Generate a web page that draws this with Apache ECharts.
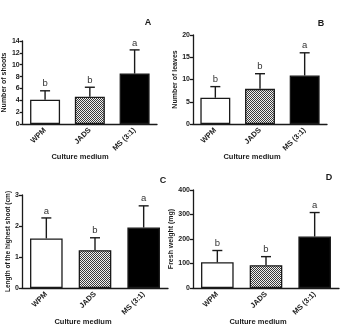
<!DOCTYPE html>
<html>
<head>
<meta charset="utf-8">
<script src="https://cdn.jsdelivr.net/npm/echarts@6/dist/echarts.min.js"></script>
<style>html,body{margin:0;background:#fff}#chart{width:341px;height:330px}</style>
</head>
<body>
<div id="chart"></div>
<script>
const categories = ['WPM', 'JADS', 'MS (3:1)']

const shootsMean = [4.1, 4.6, 8.5]
const shootsSd = [1.5, 1.6, 4.0]
const shootsLetters = ['b', 'b', 'a']
const shootsAxis = [0, 14, 2] // min, max, interval

const leavesMean = [5.9, 7.9, 10.9]
const leavesSd = [2.5, 3.4, 5.1]
const leavesLetters = ['b', 'b', 'a']
const leavesAxis = [0, 20, 5]

const lengthMean = [1.6, 1.22, 1.95]
const lengthSd = [0.66, 0.4, 0.7]
const lengthLetters = ['a', 'b', 'a']
const lengthAxis = [0, 3, 1]

const weightMean = [105, 93, 210]
const weightSd = [48, 35, 98]
const weightLetters = ['b', 'b', 'a']
const weightAxis = [0, 400, 100]

const ink = '#1a1a1a'
const font = 'Liberation Sans, Arial, sans-serif'

// fine checker fill for the JADS bars
const tile = document.createElement('canvas')
tile.width = tile.height = 2
const tctx = tile.getContext('2d')
tctx.fillStyle = '#f0f0f0'; tctx.fillRect(0, 0, 2, 2)
tctx.fillStyle = '#3a3a3a'; tctx.fillRect(0, 0, 1, 1); tctx.fillRect(1, 1, 1, 1)
const fills = ['#fff', { image: tile, repeat: 'repeat' }, '#000']

const panels = [
  { tag: 'A', yName: 'Number of shoots', mean: shootsMean, sd: shootsSd, letters: shootsLetters, axis: shootsAxis,
    grid: { left: 21, top: 41, width: 136, height: 83 }, tagPos: [148, 23], titlePos: [80, 157], nameGap: 12 },
  { tag: 'B', yName: 'Number of leaves', mean: leavesMean, sd: leavesSd, letters: leavesLetters, axis: leavesAxis,
    grid: { left: 193, top: 35, width: 134, height: 89 }, tagPos: [321, 24], titlePos: [252, 157], nameGap: 12 },
  { tag: 'C', yName: 'Length of the highest shoot (cm)', mean: lengthMean, sd: lengthSd, letters: lengthLetters, axis: lengthAxis,
    grid: { left: 22, top: 195, width: 146, height: 93 }, tagPos: [163, 181], titlePos: [83, 322], nameGap: 10 },
  { tag: 'D', yName: 'Fresh weight (mg)', mean: weightMean, sd: weightSd, letters: weightLetters, axis: weightAxis,
    grid: { left: 193, top: 190, width: 146, height: 98 }, tagPos: [329, 178], titlePos: [258, 322], nameGap: 15 },
]

const chart = echarts.init(document.getElementById('chart'))

function errorSeries(p, i) {
  return {
    type: 'custom', xAxisIndex: i, yAxisIndex: i, z: 5,
    data: categories.map((c, k) => [k, p.mean[k], p.sd[k]]),
    renderItem(params, api) {
      const k = api.value(0), m = api.value(1), s = api.value(2)
      const base = api.coord([k, m]), top = api.coord([k, m + s])
      const style = { stroke: ink, lineWidth: 1.4 }
      return { type: 'group', children: [
        { type: 'line', shape: { x1: base[0], y1: base[1], x2: top[0], y2: top[1] }, style },
        { type: 'line', shape: { x1: top[0] - 5, y1: top[1], x2: top[0] + 5, y2: top[1] }, style },
        { type: 'text', x: top[0], y: top[1] - 2,
          style: { text: p.letters[params.dataIndex], fill: '#333', font: '9.5px ' + font, align: 'center', verticalAlign: 'bottom' } },
      ] }
    },
  }
}

chart.setOption({
  animation: false,
  grid: panels.map(p => p.grid),
  xAxis: panels.map((p, i) => ({
    type: 'category', gridIndex: i, data: categories,
    axisLine: { lineStyle: { color: ink, width: 1.3 } },
    axisTick: { alignWithLabel: true, length: 3, lineStyle: { color: ink, width: 1.3 } },
    axisLabel: { rotate: 45, interval: 0, margin: 5, color: ink, fontSize: 7.5, fontWeight: 'bold', fontFamily: font },
  })),
  yAxis: panels.map((p, i) => ({
    type: 'value', gridIndex: i, min: p.axis[0], max: p.axis[1], interval: p.axis[2],
    splitLine: { show: false },
    axisLine: { show: true, lineStyle: { color: ink, width: 1.3 } },
    axisTick: { show: true, length: 3, lineStyle: { color: ink, width: 1.3 } },
    axisLabel: { margin: 3, color: ink, fontSize: 7, fontWeight: 'bold', fontFamily: font },
    name: p.yName, nameLocation: 'middle', nameGap: p.nameGap,
    nameTextStyle: { color: ink, fontSize: p.tag === 'C' ? 6.5 : 7, fontWeight: 'bold', fontFamily: font },
  })),
  series: panels.flatMap((p, i) => [
    {
      type: 'bar', xAxisIndex: i, yAxisIndex: i, barCategoryGap: '33%',
      data: p.mean.map((v, k) => ({ value: v, itemStyle: { color: fills[k] } })),
      itemStyle: { borderColor: ink, borderWidth: 1.3 },
    },
    errorSeries(p, i),
  ]),
  graphic: panels.flatMap(p => [
    { type: 'text', x: p.tagPos[0], y: p.tagPos[1],
      style: { text: p.tag, fill: ink, font: 'bold 9px ' + font, align: 'center', verticalAlign: 'middle' } },
    { type: 'text', x: p.titlePos[0], y: p.titlePos[1],
      style: { text: 'Culture medium', fill: ink, font: 'bold 7.5px ' + font, align: 'center', verticalAlign: 'middle' } },
  ]),
})
</script>
</body>
</html>
